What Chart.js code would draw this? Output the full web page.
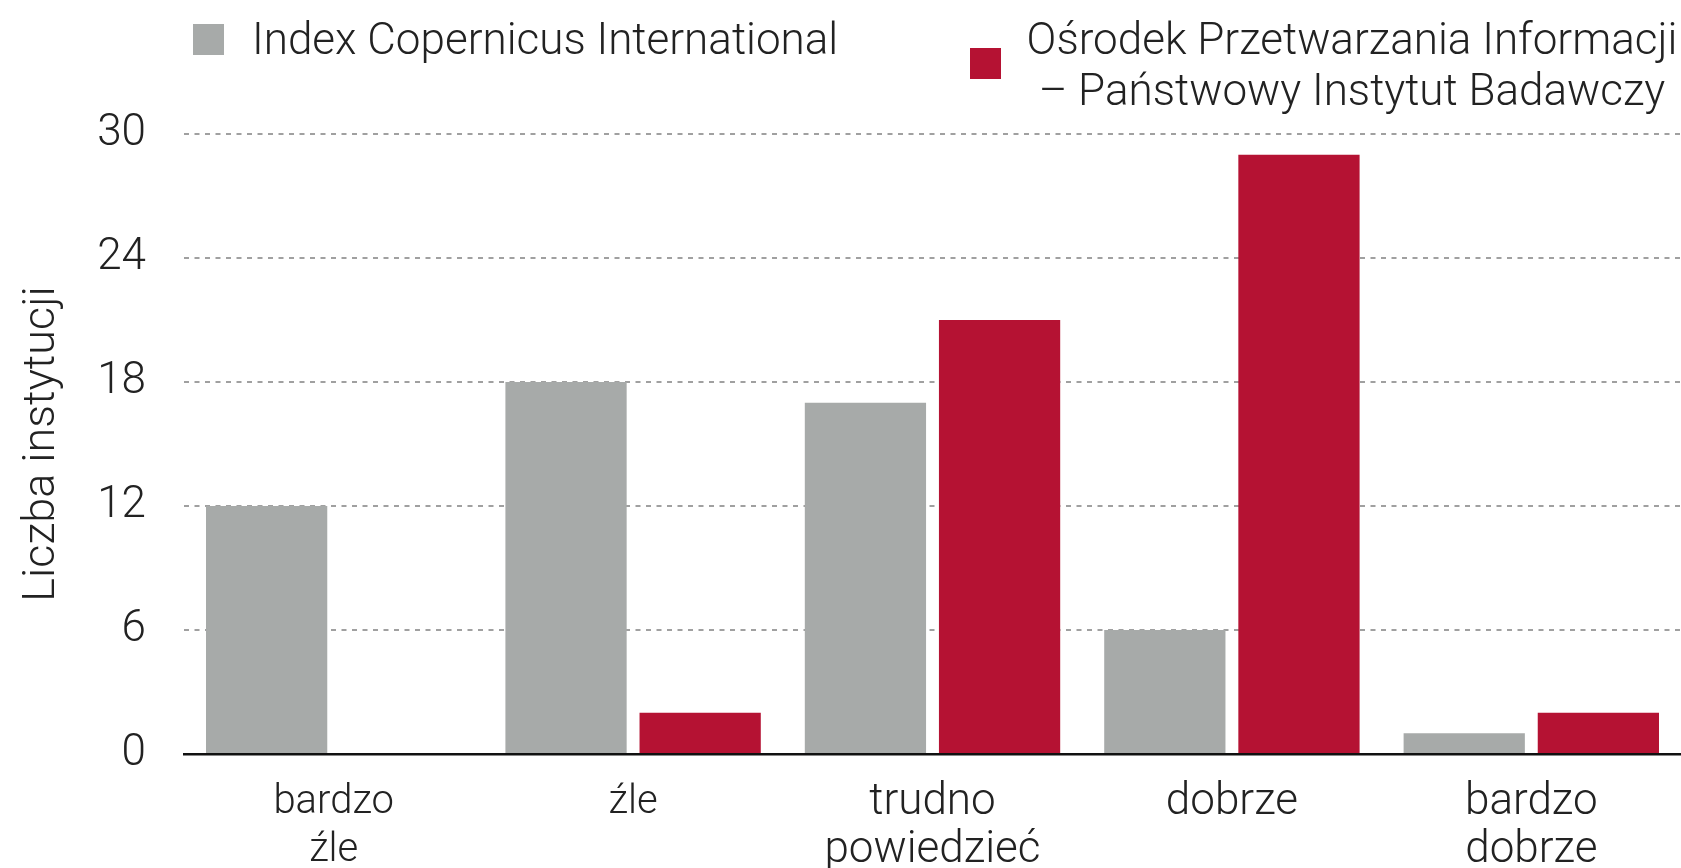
<!DOCTYPE html>
<html>
<head>
<meta charset="utf-8">
<script src="https://cdn.jsdelivr.net/npm/chart.js@4"></script>
<style>
  html, body { margin: 0; padding: 0; background: #fff; }
  #wrap { position: relative; width: 1681px; height: 868px; }
  #legend { position: absolute; left: 0; top: 0; width: 1681px; height: 120px;
            font-family: Roboto, sans-serif; font-weight: 300; font-size: 44px; color: #222; }
  .box { position: absolute; width: 31px; height: 31px; }
  .txt { position: absolute; white-space: nowrap; line-height: 51px; }
</style>
</head>
<body>
<div id="wrap">
  <canvas id="chart" width="1681" height="868"></canvas>
  <div id="legend">
    <div class="box" style="left:193px; top:24px; background:#a7aaa9"></div>
    <div class="txt" id="lg1" style="left:252px; top:14px"></div>
    <div class="box" style="left:970px; top:48px; background:#b51233"></div>
    <div class="txt" id="lg2" style="left:1024px; width:656px; top:14px; text-align:center"></div>
  </div>
</div>
<script>
// data
const categories = [['bardzo', 'źle'], 'źle', ['trudno', 'powiedzieć'], 'dobrze', ['bardzo', 'dobrze']];
const seriesNames = ['Index Copernicus International', ['Ośrodek Przetwarzania Informacji', '– Państwowy Instytut Badawczy']];
const iciValues = [12, 18, 17, 6, 1];
const opiValues = [0, 2, 21, 29, 2];
const yTicks = [0, 6, 12, 18, 24, 30];
const yTitle = 'Liczba instytucji';

const GRAY = '#a7aaa9';
const RED = '#b51233';

document.getElementById('lg1').textContent = seriesNames[0];
document.getElementById('lg2').innerHTML = seriesNames[1].join('<br>');

Chart.defaults.font.family = 'Roboto, sans-serif';
Chart.defaults.font.weight = '300';
Chart.defaults.color = '#222';

new Chart(document.getElementById('chart'), {
    type: 'bar',
    data: {
        labels: categories,
        datasets: [{
            label: seriesNames[0],
            data: iciValues,
            backgroundColor: GRAY,
            categoryPercentage: 0.896,
            barPercentage: 0.904
        }, {
            label: seriesNames[1].join(' '),
            data: opiValues,
            backgroundColor: RED,
            categoryPercentage: 0.896,
            barPercentage: 0.904
        }]
    },
    options: {
        responsive: false,
        animation: false,
        layout: { padding: { top: 134, right: 0, left: 0, bottom: 0 } },
        plugins: {
            legend: { display: false },
            tooltip: { enabled: false }
        },
        scales: {
            x: {
                grid: { display: false },
                border: { display: true, color: '#111', width: 2.5 },
                ticks: {
                    // the first two labels are set narrower in the original
                    font: (ctx) => {
                        const size = ctx.index < 2 ? 40 : 44;
                        return { size: size, lineHeight: 48 / size };
                    },
                    padding: 17,
                    maxRotation: 0,
                    autoSkip: false
                },
                afterFit: (scale) => { scale.height = 114; }
            },
            y: {
                min: 0,
                max: 30,
                afterBuildTicks: (scale) => { scale.ticks = yTicks.map(v => ({ value: v })); },
                grid: {
                    color: (ctx) => ctx.tick && ctx.tick.value === 0 ? 'rgba(0,0,0,0)' : '#a0a0a0',
                    lineWidth: 2,
                    drawTicks: false
                },
                border: { display: false, dash: [5, 5.5] },
                ticks: {
                    font: { size: 44 },
                    padding: 38
                },
                title: {
                    display: true,
                    text: yTitle,
                    font: { size: 45 },
                    padding: { top: 16, bottom: 0 }
                },
                afterFit: (scale) => { scale.width = 184; }
            }
        }
    }
});
</script>
</body>
</html>
